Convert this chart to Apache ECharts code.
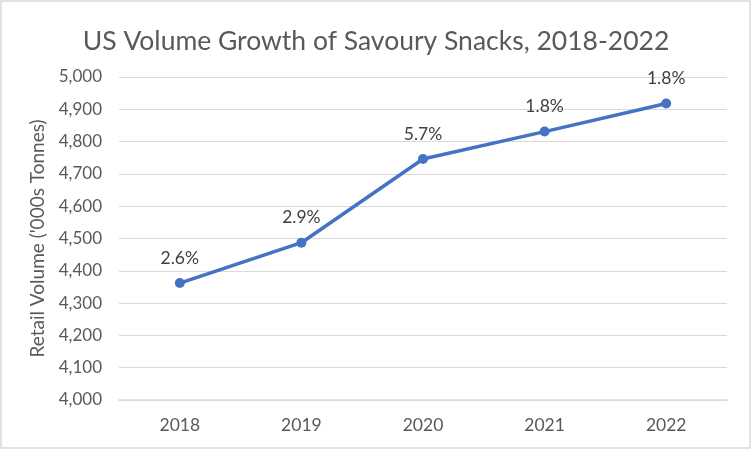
<!DOCTYPE html>
<html>
<head>
<meta charset="utf-8">
<script src="https://cdn.jsdelivr.net/npm/echarts@6/dist/echarts.min.js"></script>
<style>
html,body{margin:0;padding:0;background:#fff;}
#chart{width:752px;height:450px;}
</style>
</head>
<body>
<div id="chart"></div>
<script>
const categories = ['2018', '2019', '2020', '2021', '2022'];
const volumes = [4362, 4487, 4746, 4831, 4918];
const growthLabels = ['2.6%', '2.9%', '5.7%', '1.8%', '1.8%'];
const titleText = 'US Volume Growth of Savoury Snacks, 2018-2022';
const yAxisName = "Retail Volume ('000s Tonnes)";

const FONT = "Lato, 'Open Sans', sans-serif";
const chart = echarts.init(document.getElementById('chart'));
chart.setOption({
  backgroundColor: '#fff',
  animation: false,
  textStyle: { fontFamily: FONT },
  graphic: [{
    type: 'rect',
    shape: { x: 1, y: 1, width: 749, height: 447 },
    style: { fill: 'none', stroke: '#d9d9d9', lineWidth: 1.5 },
    silent: true
  }],
  title: {
    text: titleText,
    left: 'center',
    top: 23,
    textStyle: { fontFamily: FONT, fontSize: 26.5, fontWeight: 'normal', color: '#595959' }
  },
  grid: { left: 119, right: 25, top: 77, bottom: 50 },
  xAxis: {
    type: 'category',
    data: categories,
    boundaryGap: true,
    axisLine: { lineStyle: { color: '#d9d9d9', width: 1.5 } },
    axisTick: { show: false },
    axisLabel: { color: '#595959', fontSize: 17.5, margin: 16, fontFamily: FONT }
  },
  yAxis: {
    type: 'value',
    min: 4000,
    max: 5000,
    interval: 100,
    name: yAxisName,
    nameLocation: 'middle',
    nameGap: 69,
    nameTextStyle: { color: '#595959', fontSize: 19, fontFamily: FONT },
    axisLine: { show: false },
    axisTick: { show: false },
    splitLine: { lineStyle: { color: '#d9d9d9', width: 1 } },
    axisLabel: {
      color: '#595959', fontSize: 17, margin: 17, fontFamily: FONT,
      formatter: v => v.toLocaleString('en-US')
    }
  },
  series: [{
    type: 'line',
    data: volumes,
    symbol: 'circle',
    symbolSize: 10,
    lineStyle: { color: '#4472C4', width: 3.5 },
    itemStyle: { color: '#4472C4' },
    label: {
      show: true,
      position: 'top',
      distance: 11,
      color: '#404040',
      fontSize: 17.5,
      fontFamily: FONT,
      formatter: p => growthLabels[p.dataIndex]
    }
  }]
});
</script>
</body>
</html>
